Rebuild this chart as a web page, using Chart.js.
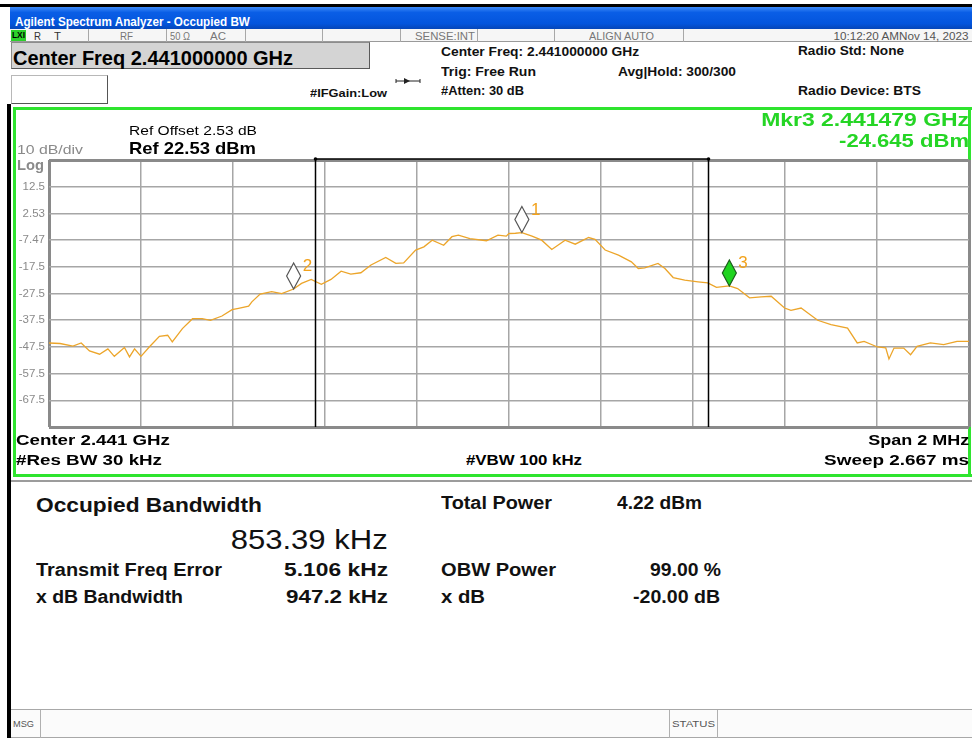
<!DOCTYPE html>
<html>
<head>
<meta charset="utf-8">
<script src="https://cdn.jsdelivr.net/npm/chart.js@4.4.1/dist/chart.umd.min.js"></script>
<style>
body { margin: 0; width: 972px; height: 738px; position: relative; overflow: hidden; background: #fff; font-family: "Liberation Sans", Arial, sans-serif; }
.box { position: absolute; box-sizing: border-box; }
.t { position: absolute; white-space: nowrap; line-height: 1; transform-origin: left center; }
.t.r { transform-origin: right center; }
.b { font-weight: bold; }
#titlebar { left: 10px; top: 7px; width: 962px; height: 22px; background: linear-gradient(#3d8af7, #0a5ee6 25%, #0355dd 75%, #0546b8); }
#topline { left: 0; top: 4px; width: 972px; height: 3px; background: #000; }
#statusrow { left: 10px; top: 29px; width: 962px; height: 13px; background: #f6f6f6; border-bottom: 1px solid #9a9a9a; }
.sep { position: absolute; top: 29px; width: 1px; height: 13px; background: #a8a8a8; }
#lxi { left: 11px; top: 30px; width: 15px; height: 11px; background: #2bd12b; }
#cfbox { left: 11px; top: 42px; width: 359px; height: 27px; background: #d4d4d4; border: 1px solid #8c8c8c; border-right-color: #5a5a5a; border-bottom-color: #5a5a5a; }
#emptybox { left: 11px; top: 75px; width: 97px; height: 29px; background: #fff; border: 1px solid #b8b8b8; border-right-color: #555; border-bottom-color: #555; }
#frame { left: 13px; top: 107px; width: 959px; height: 370px; border: 3px solid #2fe42f; border-right: none; }
#frameR { left: 968px; top: 107px; width: 3px; height: 370px; background: #2fe42f; }
#leftbar { left: 7px; top: 104px; width: 4px; height: 634px; background: #000; }
#panelline { left: 11px; top: 480px; width: 961px; height: 2px; background: #9c9c9c; }
#msgbar { left: 11px; top: 709px; width: 961px; height: 29px; background: #fbfbfb; border-top: 1px solid #a8a8a8; border-bottom: 1px solid #a8a8a8; }
.msep { position: absolute; top: 710px; width: 1px; height: 28px; background: #b0b0b0; }
#chart { position: absolute; left: 0; top: 100px; }
</style>
</head>
<body>
<div class="box" id="topline"></div>
<div class="box" id="titlebar"></div>
<div class="box" id="statusrow"></div>
<div class="box" id="lxi"></div>
<div class="sep" style="left:88px"></div>
<div class="sep" style="left:166px"></div>
<div class="sep" style="left:245px"></div>
<div class="sep" style="left:322px"></div>
<div class="sep" style="left:400px"></div>
<div class="sep" style="left:477px"></div>
<div class="sep" style="left:554px"></div>
<div class="sep" style="left:683px"></div>
<div class="box" id="cfbox"></div>
<div class="box" id="emptybox"></div>
<svg style="position:absolute;left:394px;top:76px" width="28" height="10">
  <line x1="2" y1="5" x2="26" y2="5" stroke="#222" stroke-width="1"/>
  <polygon points="10,2 16,5 10,8" fill="#222"/>
  <line x1="2" y1="3" x2="2" y2="7" stroke="#222"/>
  <line x1="26" y1="3" x2="26" y2="7" stroke="#222"/>
</svg>
<div class="box" id="leftbar"></div>
<div class="box" id="frame"></div>
<div class="box" id="frameR"></div>
<div class="box" id="panelline"></div>
<div class="box" id="msgbar"></div>
<div class="msep" style="left:40px"></div>
<div class="msep" style="left:669px"></div>
<div class="msep" style="left:717px"></div>
<canvas id="chart" width="972" height="340"></canvas>
<script>
// sweep settings
var centerFreqGHz = 2.441;
var spanMHz = 2;
var refLevel = 22.53;
var dbPerDiv = 10;
var yTickLabels = ["12.5", "2.53", "-7.47", "-17.5", "-27.5", "-37.5", "-47.5", "-57.5", "-67.5"];

// averaged trace, offset from center (MHz) and level (dBm)
var traceOffset = [
    -1.000, -0.976, -0.948, -0.930, -0.912, -0.890, -0.872, -0.858, -0.836, -0.825,
    -0.814, -0.800, -0.782, -0.760, -0.742, -0.732, -0.710, -0.688, -0.667, -0.649,
    -0.624, -0.602, -0.588, -0.566, -0.559, -0.541, -0.516, -0.494, -0.4682, -0.451,
    -0.430, -0.408, -0.387, -0.365, -0.344, -0.322, -0.300, -0.268, -0.246, -0.229,
    -0.203, -0.185, -0.167, -0.142, -0.124, -0.110, -0.085, -0.049, -0.024, -0.006,
    0.000, 0.014, 0.028, 0.050, 0.071, 0.093, 0.122, 0.144, 0.173, 0.187,
    0.209, 0.238, 0.266, 0.281, 0.295, 0.324, 0.339, 0.357, 0.382, 0.411,
    0.432, 0.451, 0.479, 0.497, 0.523, 0.548, 0.570, 0.599, 0.613, 0.635,
    0.671, 0.700, 0.736, 0.757, 0.772, 0.801, 0.819, 0.826, 0.837, 0.858,
    0.873, 0.887, 0.916, 0.945, 0.974, 1.000
];
var traceLevel = [
    -46.0, -46.2, -47.2, -46.0, -49.0, -50.2, -48.2, -51.0, -47.7, -51.2,
    -48.2, -51.0, -47.5, -43.5, -43.1, -45.6, -40.6, -36.9, -36.9, -37.5,
    -35.9, -33.5, -33.0, -32.2, -30.6, -27.7, -26.8, -27.5, -25.8, -23.7,
    -22.2, -24.0, -22.2, -19.1, -20.2, -19.7, -16.8, -14.0, -16.2, -16.0,
    -11.2, -10.0, -7.5, -9.4, -6.2, -5.6, -6.9, -7.7, -5.6, -6.0,
    -5.0, -4.9, -4.645, -6.0, -7.5, -11.0, -7.5, -9.0, -6.5, -7.2,
    -11.2, -13.1, -15.6, -18.1, -17.9, -16.2, -18.1, -21.5, -22.5, -23.1,
    -23.5, -25.2, -24.645, -25.6, -29.1, -28.7, -28.5, -32.9, -33.8, -32.9,
    -37.5, -39.1, -40.4, -46.0, -45.4, -47.5, -47.8, -52.0, -47.9, -47.9,
    -50.4, -47.3, -46.0, -46.6, -45.4, -45.4
];

// markers: offset (MHz), level (dBm), active
var markerNames = ["1", "2", "3"];
var markerOffset = [0.028, -0.4682, 0.479];
var markerLevel = [-4.645, -25.8, -24.645];

// occupied bandwidth result
var occBwKHz = 853.39;
var freqErrorKHz = 5.106;

var chartTop = refLevel;
var chartBottom = refLevel - 10 * dbPerDiv;

var obwOverlay = {
    id: "obwOverlay",
    afterDatasetsDraw: function (chart) {
        var ctx = chart.ctx;
        var xs = chart.scales.x, ys = chart.scales.y, area = chart.chartArea;
        var lo = (freqErrorKHz - occBwKHz / 2) / 1000;
        var hi = (freqErrorKHz + occBwKHz / 2) / 1000;
        var x1 = Math.round(xs.getPixelForValue(lo)) + 0.5;
        var x2 = Math.round(xs.getPixelForValue(hi)) + 0.5;
        var top = area.top - 1;
        ctx.save();
        ctx.strokeStyle = "#000";
        ctx.lineWidth = 1.5;
        ctx.beginPath();
        ctx.moveTo(x1, area.bottom);
        ctx.lineTo(x1, top);
        ctx.lineTo(x2, top);
        ctx.lineTo(x2, area.bottom);
        ctx.stroke();
        ctx.fillStyle = "#000";
        [x1, x2].forEach(function (x) {
            ctx.beginPath();
            ctx.arc(x, top, 1.8, 0, Math.PI * 2);
            ctx.fill();
        });

        // marker diamonds sit with their bottom tip on the trace
        for (var i = 0; i < markerNames.length; i++) {
            var px = xs.getPixelForValue(markerOffset[i]);
            var py = ys.getPixelForValue(markerLevel[i]);
            ctx.beginPath();
            ctx.moveTo(px, py);
            ctx.lineTo(px + 7, py - 13);
            ctx.lineTo(px, py - 26);
            ctx.lineTo(px - 7, py - 13);
            ctx.closePath();
            ctx.fillStyle = i === 2 ? "#1fd41f" : "#fff";
            ctx.fill();
            ctx.strokeStyle = i === 2 ? "#1d5e1d" : "#555";
            ctx.lineWidth = 1.2;
            ctx.stroke();
            ctx.fillStyle = "#f2a21c";
            ctx.font = "17px 'Liberation Sans', Arial, sans-serif";
            ctx.textBaseline = "alphabetic";
            ctx.fillText(markerNames[i], px + 9, py - 18);
        }
        ctx.restore();
    }
};

function isEdge(v, a, b) {
    return Math.abs(v - a) < 1e-6 || Math.abs(v - b) < 1e-6;
}

var tracePoints = traceOffset.map(function (x, i) { return { x: x, y: traceLevel[i] }; });

new Chart(document.getElementById("chart"), {
    type: "line",
    data: {
        datasets: [{
            data: tracePoints,
            borderColor: "#eca52a",
            borderWidth: 1.3,
            pointRadius: 0,
            tension: 0
        }]
    },
    options: {
        responsive: false,
        animation: false,
        devicePixelRatio: 1,
        layout: { padding: { left: 15, top: 60, right: 3, bottom: 13 } },
        plugins: { legend: { display: false }, tooltip: { enabled: false } },
        scales: {
            x: {
                type: "linear",
                min: -spanMHz / 2,
                max: spanMHz / 2,
                ticks: { display: false, stepSize: spanMHz / 10 },
                border: { display: false },
                grid: {
                    drawTicks: false,
                    color: function (c) { return isEdge(c.tick.value, -spanMHz / 2, spanMHz / 2) ? "#8a8a8a" : "#a6a6a6"; },
                    lineWidth: function (c) { return isEdge(c.tick.value, -spanMHz / 2, spanMHz / 2) ? 3 : 1.5; }
                },
                afterFit: function (scale) { scale.height = 0; }
            },
            y: {
                min: chartBottom,
                max: chartTop,
                border: { display: false },
                afterBuildTicks: function (scale) {
                    var t = [];
                    for (var i = 10; i >= 0; i--) t.push({ value: refLevel - i * dbPerDiv });
                    scale.ticks = t;
                },
                ticks: {
                    autoSkip: false,
                    padding: 4,
                    color: "#8a8a8a",
                    font: { size: 11.5 },
                    callback: function (value, index) {
                        var k = 10 - index;
                        return (k >= 1 && k <= 9) ? yTickLabels[k - 1] : "";
                    }
                },
                grid: {
                    drawTicks: false,
                    color: function (c) { return isEdge(c.tick.value, chartBottom, chartTop) ? "#8a8a8a" : "#a6a6a6"; },
                    lineWidth: function (c) { return isEdge(c.tick.value, chartBottom, chartTop) ? 3 : 1.5; }
                },
                afterFit: function (scale) { scale.width = 34; }
            }
        }
    },
    plugins: [obwOverlay]
});

// screen text: text, x, cap top, size, width, classes, colour (x is the right edge for "r")
var texts = [
    ["Agilent Spectrum Analyzer - Occupied BW", 15, 18, 12.5, 235, "b", "#fff"],
    ["LXI", 12, 32, 9, 13, "b", "#000"],
    ["R", 34, 32, 10.5, 7, "", "#333"],
    ["T", 54, 32, 10.5, 7, "", "#333"],
    ["RF", 120, 32, 10.5, 13, "", "#777"],
    ["50 \u03a9", 170, 32, 10.5, 20, "", "#777"],
    ["AC", 210, 32, 10.5, 16, "", "#777"],
    ["SENSE:INT", 415, 32, 10.5, 60, "", "#777"],
    ["ALIGN AUTO", 589, 32, 10.5, 65, "", "#777"],
    ["10:12:20 AMNov 14, 2023", 968, 32, 10.5, 135, "r", "#555"],
    ["Center Freq 2.441000000 GHz", 13, 50, 21, 280, "b", "#000"],
    ["#IFGain:Low", 310, 89, 11.5, 77, "b", "#111"],
    ["Center Freq: 2.441000000 GHz", 441, 47, 13.5, 198, "b", "#111"],
    ["Trig: Free Run", 441, 67, 13.5, 95, "b", "#111"],
    ["#Atten: 30 dB", 441, 86, 13.5, 83, "b", "#111"],
    ["Avg|Hold: 300/300", 618, 67, 13.5, 118, "b", "#111"],
    ["Radio Std: None", 798, 46, 13.5, 106, "b", "#111"],
    ["Radio Device: BTS", 798, 86, 13.5, 123, "b", "#111"],
    ["Ref Offset 2.53 dB", 129, 127, 12.5, 128, "", "#000"],
    ["Ref 22.53 dBm", 129, 142, 17, 127, "b", "#000"],
    ["10 dB/div", 17, 145, 13.5, 66, "", "#8a8a8a"],
    ["Log", 17, 159, 15, 27, "b", "#8a8a8a"],
    ["Mkr3  2.441479 GHz", 969, 113, 18, 208, "b r", "#25d525"],
    ["-24.645 dBm", 969, 134, 18, 130, "b r", "#25d525"],
    ["Center  2.441 GHz", 16, 434, 15, 154, "b", "#000"],
    ["#Res BW  30 kHz", 16, 454, 15, 146, "b", "#000"],
    ["#VBW  100 kHz", 466, 454, 15, 116, "b", "#000"],
    ["Span 2 MHz", 969, 434, 15, 101, "b r", "#000"],
    ["Sweep  2.667 ms", 969, 454, 15, 145, "b r", "#000"],
    ["Occupied Bandwidth", 36, 498, 20, 226, "b", "#111"],
    ["853.39 kHz", 388, 530, 28, 157, "r", "#111"],
    ["Transmit Freq Error", 36, 563, 18, 186, "b", "#111"],
    ["5.106 kHz", 388, 563, 18, 104, "b r", "#111"],
    ["x dB Bandwidth", 36, 590, 18, 147, "b", "#111"],
    ["947.2 kHz", 388, 590, 18, 102, "b r", "#111"],
    ["Total Power", 441, 496, 18, 111, "b", "#111"],
    ["4.22 dBm", 702, 496, 18, 85, "b r", "#111"],
    ["OBW Power", 441, 563, 18, 115, "b", "#111"],
    ["99.00 %", 721, 563, 18, 71, "b r", "#111"],
    ["x dB", 441, 590, 18, 44, "b", "#111"],
    ["-20.00 dB", 720, 590, 18, 87, "b r", "#111"],
    ["MSG", 13, 720, 9.5, 21, "", "#555"],
    ["STATUS", 672, 720, 9.5, 43, "", "#555"]
];

function addText(t) {
    var el = document.createElement("div");
    el.className = "t " + t[5];
    el.textContent = t[0];
    el.style.fontSize = t[3] + "px";
    el.style.color = t[6];
    el.style.top = (t[2] - 0.13 * t[3]).toFixed(1) + "px";
    if (t[5].indexOf("r") >= 0) el.style.right = (972 - t[1]) + "px";
    else el.style.left = t[1] + "px";
    el.setAttribute("data-w", t[4]);
    document.body.appendChild(el);
}
texts.forEach(addText);

// squeeze each string to the width it takes on the instrument screen
function fitText() {
    document.querySelectorAll("[data-w]").forEach(function (el) {
        el.style.transform = "";
        var w = el.getBoundingClientRect().width;
        if (w > 0) el.style.transform = "scaleX(" + (el.getAttribute("data-w") / w).toFixed(3) + ")";
    });
}
fitText();
if (document.fonts) document.fonts.ready.then(fitText);
</script>
</body>
</html>
